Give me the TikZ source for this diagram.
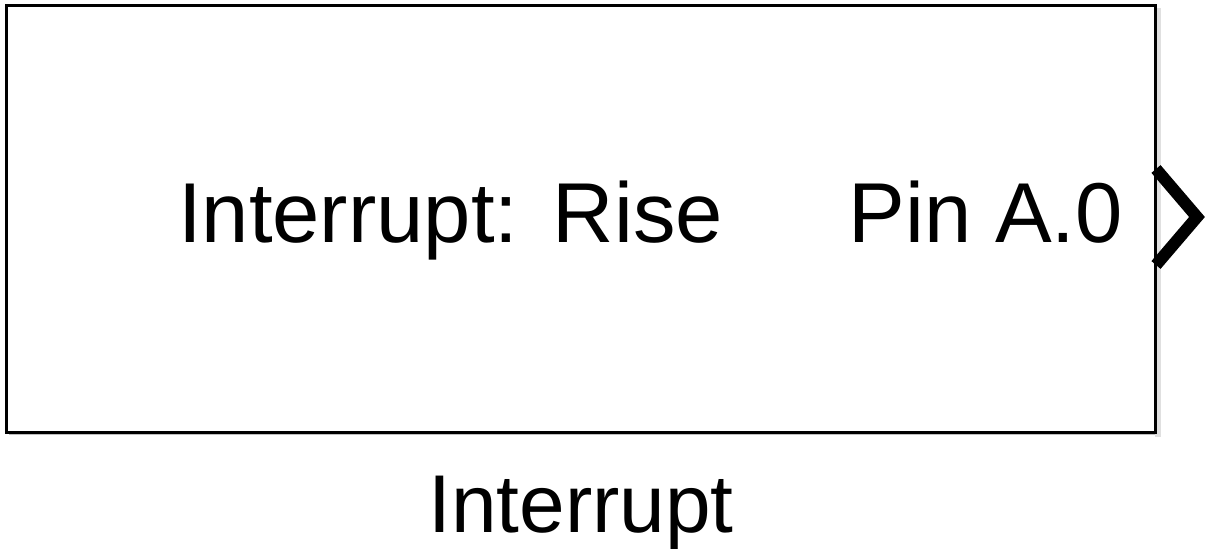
\documentclass[tikz,border=0pt]{standalone}
\usepackage{fontspec}
\setmainfont{Liberation Sans}
\begin{document}
\begin{tikzpicture}[x=1pt,y=-1pt,
  lbl/.style={inner sep=0pt, font=\fontsize{85}{90}\selectfont},
  lblb/.style={inner sep=0pt, font=\fontsize{82}{90}\selectfont},
  blockbox/.style={draw=black, line width=3pt, fill=white},
  portarrow/.style={draw=black, line width=12pt, line join=miter}]
\useasboundingbox (0,0) rectangle (1210,553);
\fill[black!25] (9,9) rectangle (1159,435);
\fill[black!12] (1155,8) rectangle (1161,437);
\node[blockbox, minimum width=1149pt, minimum height=426pt, anchor=north west, inner sep=0pt] (blk) at (4.5,4.5) {};
\node[lbl, anchor=base west] (t1) at (178,243) {Interrupt: \kern3pt Rise};
\node[lbl, anchor=base east] (t2) at (1123,243) {Pin A.0};
\node[lblb, anchor=base] (t3) at (581,532) {Interrupt};
\coordinate (pa) at (1156,169);
\coordinate (pb) at (1197,217);
\coordinate (pc) at (1156,265);
\draw[portarrow] (pa) -- (pb) -- (pc);
\end{tikzpicture}
\end{document}
